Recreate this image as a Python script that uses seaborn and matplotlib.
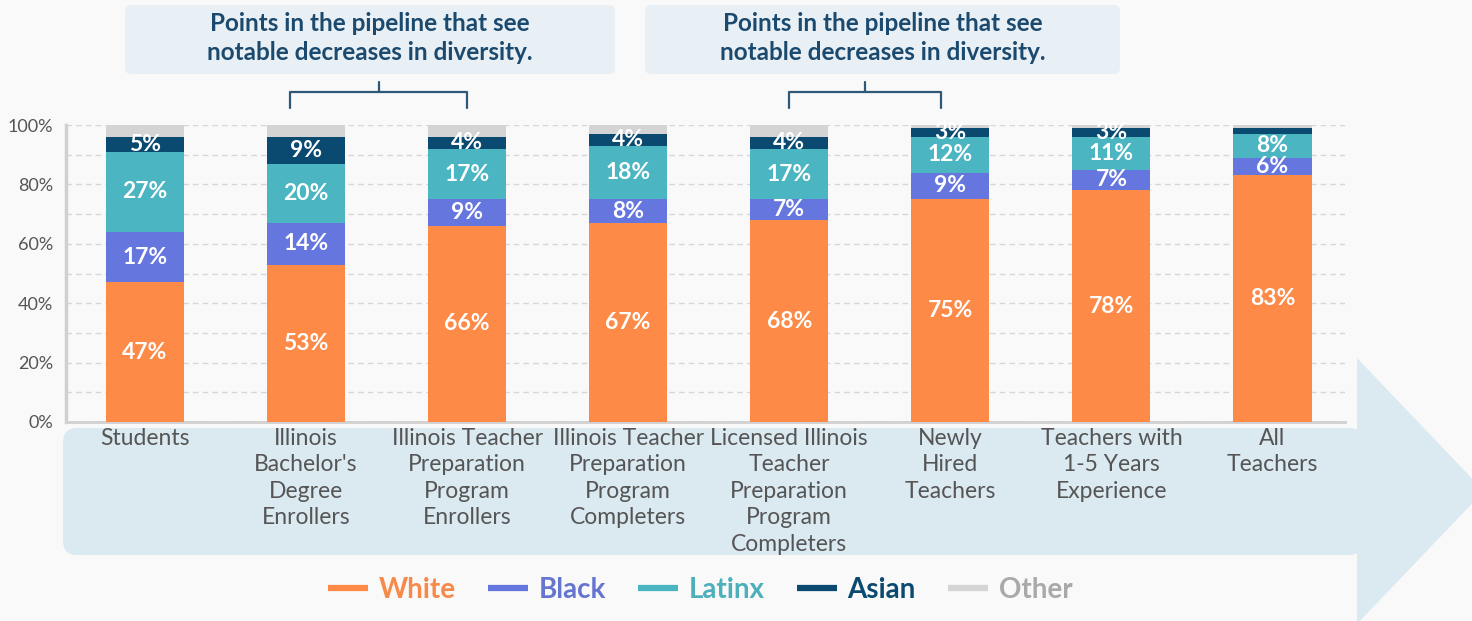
import matplotlib
matplotlib.use("Agg")
import matplotlib.pyplot as plt
import matplotlib.transforms as mtransforms
from matplotlib.patches import FancyBboxPatch, Polygon
from matplotlib.lines import Line2D
import seaborn as sns
import pandas as pd
import numpy as np

# ---------------- data ----------------
categories = [
    "Students",
    "Illinois\nBachelor's\nDegree\nEnrollers",
    "Illinois Teacher\nPreparation\nProgram\nEnrollers",
    "Illinois Teacher\nPreparation\nProgram\nCompleters",
    "Licensed Illinois\nTeacher\nPreparation\nProgram\nCompleters",
    "Newly\nHired\nTeachers",
    "Teachers with\n1-5 Years\nExperience",
    "All\nTeachers",
]
white = [47, 53, 66, 67, 68, 75, 78, 83]
black = [17, 14, 9, 8, 7, 9, 7, 6]
latinx = [27, 20, 17, 18, 17, 12, 11, 8]
asian = [5, 9, 4, 4, 4, 3, 3, 2]
other = [4, 4, 4, 3, 4, 1, 1, 1]
series_names = ["White", "Black", "Latinx", "Asian", "Other"]
yticks = [0, 20, 40, 60, 80, 100]
annotation_text = "Points in the pipeline that see\nnotable decreases in diversity."
bracket_spans = [(0.9, 2.0), (4.0, 4.94)]

colors = {"White": "#FD8A47", "Black": "#6676DF", "Latinx": "#4BB5C2",
          "Asian": "#0B4A70", "Other": "#D4D4D4"}
legend_text_colors = {"White": "#F7894A", "Black": "#6676D0", "Latinx": "#4BB0BC",
                      "Asian": "#0B4A70", "Other": "#A9A9A9"}

BG = "#F9F9F9"
W, H = 1472, 621

sns.set_theme(style="white")
plt.rcParams["font.family"] = ["Lato", "DejaVu Sans"]

fig = plt.figure(figsize=(W / 100, H / 100), dpi=100, facecolor=BG)
ax = fig.add_axes([66 / W, 1 - 422 / H, (1345 - 66) / W, (422 - 125) / H])
ax.set_facecolor("none")
ax.set_zorder(1)

df = pd.DataFrame({"category": categories, "White": white, "Black": black,
                   "Latinx": latinx, "Asian": asian, "Other": other})
vals = df[series_names].to_numpy(dtype=float)
cum = np.cumsum(vals, axis=1)

# draw stacked bars as overlapping cumulative bars (top layer first)
for k in range(len(series_names) - 1, -1, -1):
    d = pd.DataFrame({"category": categories, "value": cum[:, k]})
    sns.barplot(data=d, x="category", y="value", color=colors[series_names[k]],
                width=0.485, saturation=1, ax=ax, linewidth=0, edgecolor="none",
                zorder=2 + (len(series_names) - k))

# data labels (not for Other)
for i in range(len(categories)):
    for k, name in enumerate(series_names[:-1]):
        v = vals[i, k]
        if v < 3:
            continue
        yc = cum[i, k] - v / 2
        ax.text(i, yc, f"{int(v)}%", ha="center", va="center", color="white",
                fontsize=16.5, fontweight="bold", zorder=20)

ax.set_xlim(-0.49, 7.45)
ax.set_ylim(0, 100)
ax.set_yticks(yticks)
ax.set_yticklabels([f"{t}%" for t in yticks], color="#555555", fontsize=13)
ax.set_yticks(np.arange(0, 101, 10), minor=True)
ax.grid(axis="y", which="both", color="#D6D6D6", linestyle=(0, (4, 3)), lw=1, zorder=0)
ax.set_axisbelow(True)
ax.tick_params(axis="y", length=0, pad=9)
ax.tick_params(axis="y", which="minor", length=0)
ax.tick_params(axis="x", length=0, pad=4)
ax.set_xticks(range(len(categories)))
ax.set_xticklabels(categories, color="#555555", fontsize=16.5, linespacing=1.33, va="top")
ax.set_xlabel("")
ax.set_ylabel("")
for s in ["top", "right"]:
    ax.spines[s].set_visible(False)
ax.spines["left"].set_color("#D0D0D0")
ax.spines["left"].set_linewidth(2.5)
ax.spines["bottom"].set_color("#D0D0D0")
ax.spines["bottom"].set_linewidth(2)

# ---------------- background arrow (pixel coords) ----------------
pix = mtransforms.IdentityTransform()
arrow_col = "#DBE9F1"
body = FancyBboxPatch((63, H - 555), 1300, 555 - 428,
                      boxstyle="round,pad=0,rounding_size=14",
                      transform=pix, facecolor=arrow_col, edgecolor="none", zorder=-5)
fig.patches.append(body)
head = Polygon([(1357, H - 358), (1484, H - 491), (1357, H - 624)], closed=True,
               transform=pix, facecolor=arrow_col, edgecolor="none", zorder=-5)
fig.patches.append(head)

# ---------------- annotation boxes ----------------
box_col = "#E9F0F5"
text_col = "#1B4A6E"
for (x0, x1) in [(125, 615), (645, 1120)]:
    bx = FancyBboxPatch((x0, H - 74), x1 - x0, 69,
                        boxstyle="round,pad=0,rounding_size=6",
                        transform=pix, facecolor=box_col, edgecolor="none", zorder=-4)
    fig.patches.append(bx)
    fig.text((x0 + x1) / 2 / W, 1 - 38 / H, annotation_text, ha="center", va="center",
             color=text_col, fontsize=17.5, fontweight="bold", linespacing=1.3)

# brackets: x in data coords, y in figure coords
btrans = mtransforms.blended_transform_factory(ax.transData, fig.transFigure)
for (a, b) in bracket_spans:
    yb = 1 - 92 / H
    yd = 1 - 108 / H
    yt = 1 - 82 / H
    xm = (a + b) / 2
    line = Line2D([a, a, b, b], [yd, yb, yb, yd], transform=btrans, color="#2E5877",
                  lw=1.6, clip_on=False)
    fig.lines.append(line)
    tick = Line2D([xm, xm], [yb, yt], transform=btrans, color="#2E5877", lw=1.6,
                  clip_on=False)
    fig.lines.append(tick)

# ---------------- legend ----------------
handles = [Line2D([0], [0], color=colors[n], lw=4.5, solid_capstyle="butt") for n in series_names]
leg = fig.legend(handles, series_names, loc="center", bbox_to_anchor=(700 / W, 1 - 590 / H),
                 ncol=5, frameon=False, handlelength=1.45, handletextpad=0.38,
                 columnspacing=1.15, prop={"size": 20, "weight": "bold"})
for t, n in zip(leg.get_texts(), series_names):
    t.set_color(legend_text_colors[n])

fig.savefig("out.png", dpi=100, facecolor=BG)
